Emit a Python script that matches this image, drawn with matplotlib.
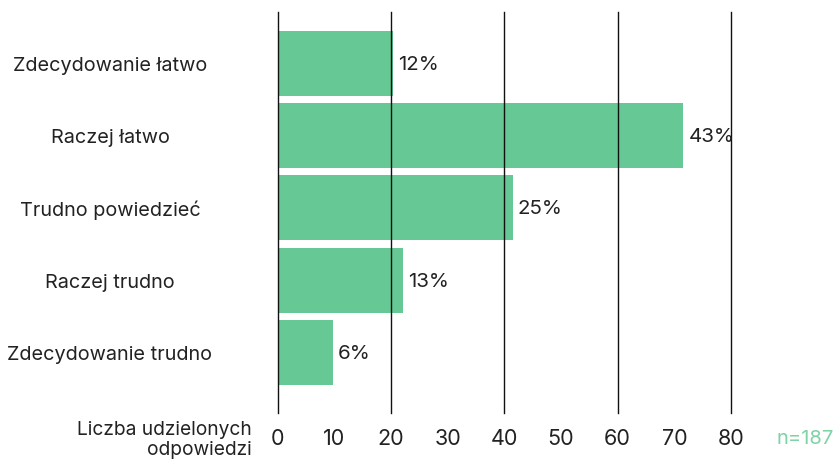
import matplotlib
matplotlib.use("Agg")
import matplotlib.pyplot as plt

categories = ["Zdecydowanie łatwo", "Raczej łatwo", "Trudno powiedzieć", "Raczej trudno", "Zdecydowanie trudno"]
counts = [20.4, 71.6, 41.5, 22.1, 9.8]
pct_labels = ["12%", "43%", "25%", "13%", "6%"]
xticks = [0, 10, 20, 30, 40, 50, 60, 70, 80]
grid_x = [0, 20, 40, 60, 80]
axis_title = "Liczba udzielonych\nodpowiedzi"
n_label = "n=187"

plt.rcParams['font.family'] = ['Inter', 'DejaVu Sans']

fig = plt.figure(figsize=(8.37, 4.62), dpi=100)
W, H = 837, 462
ax = fig.add_axes([277.7 / W, 1 - 413 / H, (731 - 277.7) / W, (413 - 12) / H])

green = "#65C895"
ypos = list(range(len(categories)))
ax.barh(ypos, counts, height=0.9, color=green, zorder=1)
for x in grid_x:
    ax.axvline(x, color="#111111", lw=1.0, zorder=2, clip_on=False)

ax.set_xlim(0, 80)
ax.set_ylim(4.84, -0.71)
for s in ax.spines.values():
    s.set_visible(False)
ax.set_xticks(xticks)
ax.set_xticklabels([str(t) for t in xticks], fontsize=15.5, color="#222222")
ax.tick_params(axis='x', length=0, pad=11.5)
ax.set_yticks([])

for y, v, lab in zip(ypos, counts, pct_labels):
    ax.annotate(lab, xy=(v, y), xytext=(5, -1.5), textcoords="offset pixels",
                va="center", ha="left", fontsize=14.8, color="#222222", zorder=3)

# centered category labels
for y, c in zip(ypos, categories):
    ax.annotate(c, xy=(0, y), xycoords=("axes fraction", "data"),
                xytext=(110 - 277.7, -2.5), textcoords="offset pixels",
                ha="center", va="center", fontsize=14.3, color="#222222")

fig.text(252 / W, 1 - 440 / H, axis_title, ha="right", va="center", fontsize=13.8,
         color="#222222", linespacing=1.2, multialignment="right")
fig.text(834 / W, 1 - 439 / H, n_label, ha="right", va="center", fontsize=14.5, color="#7FD3A5")

fig.savefig("out.png", dpi=100)
